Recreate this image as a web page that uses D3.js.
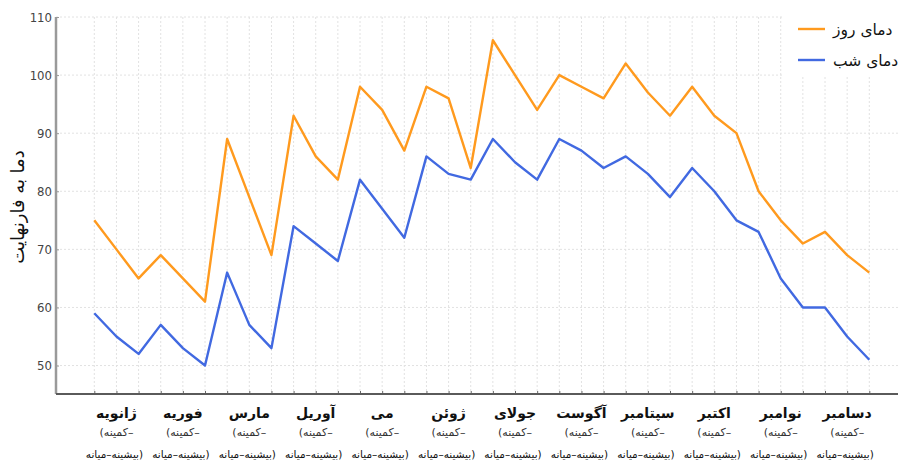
<!DOCTYPE html>
<html>
<head>
<meta charset="utf-8">
<script src="https://cdn.jsdelivr.net/npm/d3@7/dist/d3.min.js"></script>
<style>
  html, body { margin: 0; padding: 0; background: #fff; overflow: hidden; }
  svg { display: block; }
</style>
</head>
<body>
<div id="chart"></div>
<script>
// months and the three sub-points of each (min / mean / max)
const months = ["ژانویه", "فوریه", "مارس", "آوریل", "می", "ژوئن",
  "جولای", "آگوست", "سپتامبر", "اکتبر", "نوامبر", "دسامبر"];
const subLabel1 = "(کمینه–";
const subLabel2 = "میانه\u200E–\u200Eبیشینه)";

// day temperatures, 3 values per month
const dayTemps = [75, 70, 65, 69, 65, 61, 89, 79, 69, 93, 86, 82,
  98, 94, 87, 98, 96, 84, 106, 100, 94, 100, 98, 96,
  102, 97, 93, 98, 93, 90, 80, 75, 71, 73, 69, 66];
// night temperatures
const nightTemps = [59, 55, 52, 57, 53, 50, 66, 57, 53, 74, 71, 68,
  82, 77, 72, 86, 83, 82, 89, 85, 82, 89, 87, 84,
  86, 83, 79, 84, 80, 75, 73, 65, 60, 60, 55, 51];

const yTicks = [50, 60, 70, 80, 90, 100, 110];
const seriesNames = ["دمای روز", "دمای شب"];
const seriesColors = ["#ff9a1e", "#4169e1"];
const yTitle = "دما به فارنهایت";

const width = 898, height = 466;
const plot = { left: 56, right: 898, top: 17, bottom: 394 };

const svg = d3.select("#chart").append("svg")
  .attr("width", width)
  .attr("height", height);

const keys = d3.range(dayTemps.length);
const x = d3.scalePoint()
  .domain(keys)
  .range([94.3, 869.3]);

const y = d3.scaleLinear()
  .domain([45.1, 110])
  .range([plot.bottom, plot.top]);

// grid
const grid = svg.append("g");
grid.selectAll("line.v")
  .data(keys)
  .enter().append("line")
  .attr("x1", d => x(d)).attr("x2", d => x(d))
  .attr("y1", plot.top).attr("y2", plot.bottom)
  .attr("stroke", "#e2e2e2")
  .attr("stroke-dasharray", "2,2")
  .attr("stroke-width", 1);
grid.selectAll("line.h")
  .data(yTicks)
  .enter().append("line")
  .attr("x1", plot.left).attr("x2", plot.right)
  .attr("y1", d => y(d)).attr("y2", d => y(d))
  .attr("stroke", "#e2e2e2")
  .attr("stroke-dasharray", "2,2")
  .attr("stroke-width", 1);

// y axis
const yAxis = svg.append("g")
  .attr("transform", "translate(" + plot.left + ",0)")
  .call(d3.axisRight(y).tickValues(yTicks).tickSize(3));
yAxis.select(".domain").remove();
yAxis.selectAll(".tick line").attr("stroke", "#999");
yAxis.selectAll(".tick text")
  .attr("x", -4)
  .attr("text-anchor", "end")
  .attr("fill", "#444")
  .style("font-family", "'Liberation Sans Narrow', 'DejaVu Sans Condensed', sans-serif")
  .style("font-size", "13px");
svg.append("line")
  .attr("x1", plot.left).attr("x2", plot.left)
  .attr("y1", plot.top).attr("y2", plot.bottom)
  .attr("stroke", "#9a9a9a")
  .attr("stroke-width", 2.5);

// x axis
const xAxis = svg.append("g")
  .attr("transform", "translate(0," + plot.bottom + ")")
  .call(d3.axisTop(x).tickSize(3).tickFormat(""));
xAxis.select(".domain").remove();
xAxis.selectAll(".tick line").attr("stroke", "#666");
svg.append("line")
  .attr("x1", plot.left).attr("x2", plot.right)
  .attr("y1", plot.bottom).attr("y2", plot.bottom)
  .attr("stroke", "#5a5a5a")
  .attr("stroke-width", 2);

// month labels, centered on the middle point of each month
const labels = svg.append("g")
  .style("font-family", "'DejaVu Sans', sans-serif")
  .attr("fill", "#111")
  .attr("text-anchor", "middle")
  .attr("direction", "ltr");
months.forEach((m, i) => {
  const cx = x(i * 3 + 1);
  labels.append("text")
    .attr("x", cx).attr("y", 418)
    .style("font-size", "14px")
    .style("font-weight", "bold")
    .text(m);
  labels.append("text")
    .attr("x", cx).attr("y", 436)
    .style("font-size", "11px")
    .attr("fill", "#333")
    .text(subLabel1);
  labels.append("text")
    .attr("x", cx - 2).attr("y", 458)
    .style("font-size", "10.5px")
    .text(subLabel2);
});

// y title
svg.append("text")
  .attr("transform", "translate(24,207) rotate(-90)")
  .attr("text-anchor", "middle")
  .style("font-family", "'DejaVu Sans', sans-serif")
  .style("font-size", "18px")
  .attr("fill", "#111")
  .text(yTitle);

// lines
const line = d3.line()
  .x((d, i) => x(i))
  .y(d => y(d));
[dayTemps, nightTemps].forEach((data, k) => {
  svg.append("path")
    .datum(data)
    .attr("fill", "none")
    .attr("stroke", seriesColors[k])
    .attr("stroke-width", 2.4)
    .attr("stroke-linejoin", "round")
    .attr("d", line);
});

// legend
const legend = svg.append("g");
legend.append("rect")
  .attr("x", 783).attr("y", 0)
  .attr("width", 120).attr("height", 77)
  .attr("fill", "#fff");
seriesNames.forEach((name, k) => {
  const ly = 29 + k * 31;
  legend.append("line")
    .attr("x1", 798).attr("x2", 825)
    .attr("y1", ly).attr("y2", ly)
    .attr("stroke", seriesColors[k])
    .attr("stroke-width", 2.4);
  legend.append("text")
    .attr("x", 833).attr("y", ly + 6)
    .style("font-family", "'DejaVu Sans', sans-serif")
    .style("font-size", "15.5px")
    .attr("fill", "#111")
    .text(name);
});
</script>
</body>
</html>
